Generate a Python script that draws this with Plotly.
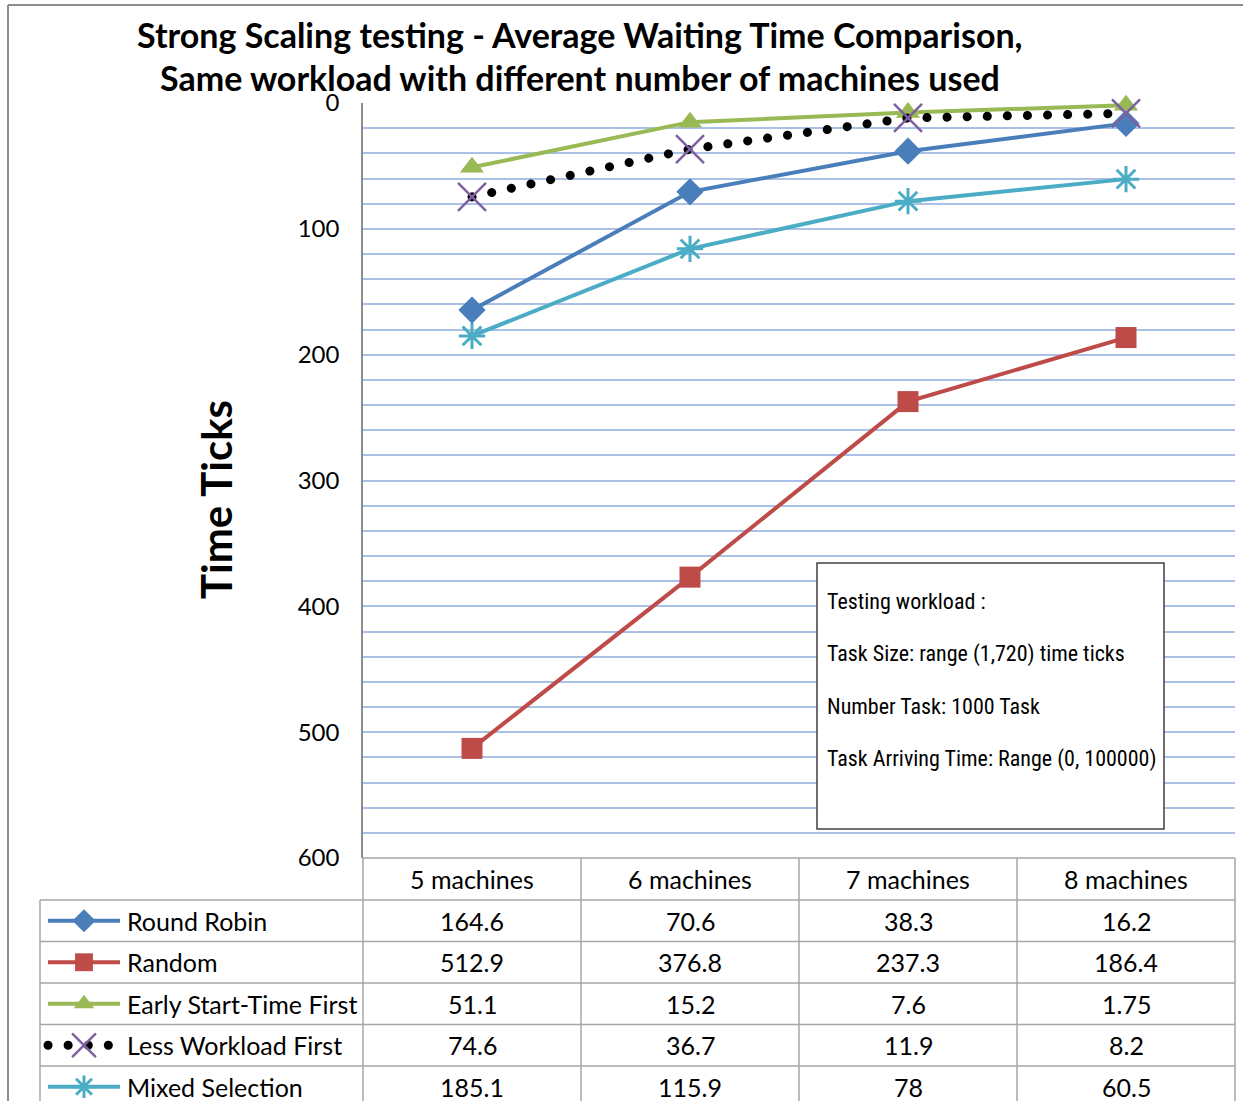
import plotly.graph_objects as go

# ---- data -------------------------------------------------------------
categories = ["5 machines", "6 machines", "7 machines", "8 machines"]
series_names = [
    "Round Robin",
    "Random",
    "Early Start-Time First",
    "Less Workload First",
    "Mixed Selection",
]
round_robin = [164.6, 70.6, 38.3, 16.2]
random_sel = [512.9, 376.8, 237.3, 186.4]
early_start = [51.1, 15.2, 7.6, 1.75]
less_workload = [74.6, 36.7, 11.9, 8.2]
mixed_selection = [185.1, 115.9, 78, 60.5]
y_ticks = [0, 100, 200, 300, 400, 500, 600]
major_grid = [100, 200, 300, 400, 500, 600]

title_lines = [
    "Strong Scaling testing - Average Waiting Time Comparison,",
    "Same workload with different number of machines used",
]
note_lines = [
    "Testing workload :",
    "Task Size: range (1,720) time ticks",
    "Number Task: 1000 Task",
    "Task Arriving Time: Range (0, 100000)",
]

# ---- page geometry (pixels) -------------------------------------------
W, H = 1243, 1101
PLOT_L, PLOT_R, PLOT_T, PLOT_B = 363, 1235, 103, 858
TABLE_L = 40
ROW_H = 41.5
HEADER_B = 900


def px(x):
    return x / W


def py(y):
    return 1 - y / H


FONT = "Lato, Carlito, Calibri, 'Open Sans', sans-serif"
NARROW = "'Liberation Sans Narrow', 'Roboto Condensed', 'DejaVu Sans Condensed', Lato, sans-serif"
GRID_BLUE = "#A9C1E6"
GRID_GRAY = "#8C8C8C"
TABLE_LINE = "#A6A6A6"
TABLE_FONT = dict(family=FONT, size=25, color="black")

styles = [
    dict(line=dict(color="#4A7EBB", width=4),
         marker=dict(symbol="diamond", size=21, color="#4A7EBB")),
    dict(line=dict(color="#BE4B48", width=4),
         marker=dict(symbol="square", size=21, color="#BE4B48")),
    dict(line=dict(color="#98B954", width=4),
         marker=dict(symbol="triangle-up", size=21, color="#98B954")),
    dict(line=dict(color="black", width=9, dash="9px,11px"),
         marker=dict(symbol="x-thin-open", size=28, color="#7D60A0",
                     line=dict(color="#7D60A0", width=2.5))),
    dict(line=dict(color="#4BACC6", width=4),
         marker=dict(symbol="asterisk-open", size=22, color="#4BACC6",
                     line=dict(color="#4BACC6", width=3))),
]
values = [round_robin, random_sel, early_start, less_workload, mixed_selection]

fig = go.Figure()

# ---- main series --------------------------------------------------------
for name, vals, st in zip(series_names, values, styles):
    fig.add_trace(go.Scatter(
        x=categories, y=vals, name=name, mode="lines+markers",
        line=st["line"], marker=st["marker"], showlegend=False,
        xaxis="x", yaxis="y", cliponaxis=False,
    ))

# ---- legend keys inside the data table ----------------------------------
row_centers = [HEADER_B + ROW_H * (i + 0.5) for i in range(len(series_names))]
for name, st, yc in zip(series_names, styles, row_centers):
    key_line = dict(st["line"])
    fig.add_trace(go.Scatter(
        x=[48, 120], y=[yc, yc], mode="lines", line=key_line,
        showlegend=False, xaxis="x2", yaxis="y2", hoverinfo="skip",
    ))
    mk = dict(st["marker"])
    mk["size"] = mk["size"] * 0.85
    fig.add_trace(go.Scatter(
        x=[84], y=[yc], mode="markers", marker=mk,
        showlegend=False, xaxis="x2", yaxis="y2", hoverinfo="skip",
    ))

shapes = []
# outer chart frame
shapes.append(dict(type="line", xref="paper", yref="paper",
                   x0=px(8), x1=px(8), y0=py(5), y1=py(H + 5),
                   line=dict(color="#8C8C8C", width=2)))
shapes.append(dict(type="line", xref="paper", yref="paper",
                   x0=px(8), x1=px(W + 5), y0=py(5), y1=py(5),
                   line=dict(color="#8C8C8C", width=2)))

# data table grid
col_edges = [PLOT_L + (PLOT_R - PLOT_L) * k / len(categories)
             for k in range(len(categories) + 1)]
for xe in col_edges:
    shapes.append(dict(type="line", xref="paper", yref="paper",
                       x0=px(xe), x1=px(xe), y0=py(PLOT_B), y1=py(H + 10),
                       line=dict(color=TABLE_LINE, width=1.5)))
shapes.append(dict(type="line", xref="paper", yref="paper",
                   x0=px(TABLE_L), x1=px(TABLE_L), y0=py(HEADER_B), y1=py(H + 10),
                   line=dict(color=TABLE_LINE, width=1.5)))
shapes.append(dict(type="line", xref="paper", yref="paper",
                   x0=px(PLOT_L), x1=px(PLOT_R), y0=py(PLOT_B), y1=py(PLOT_B),
                   line=dict(color=TABLE_LINE, width=1.5)))
for i in range(len(series_names)):
    yb = HEADER_B + ROW_H * i
    shapes.append(dict(type="line", xref="paper", yref="paper",
                       x0=px(TABLE_L), x1=px(PLOT_R), y0=py(yb), y1=py(yb),
                       line=dict(color=TABLE_LINE, width=1.5)))

# note box
shapes.append(dict(type="rect", xref="paper", yref="paper",
                   x0=px(817), x1=px(1164), y0=py(563), y1=py(829),
                   fillcolor="white", line=dict(color="#404040", width=1.5),
                   layer="above"))

annotations = []
for i, t in enumerate(title_lines):
    annotations.append(dict(text=f"<b>{t}</b>", xref="paper", yref="paper",
                            x=px(580), y=py(34 + 43 * i), showarrow=False,
                            xanchor="center", yanchor="middle",
                            font=dict(family=FONT, size=34, color="black")))
annotations.append(dict(text="<b>Time Ticks</b>", xref="paper", yref="paper",
                        x=px(216), y=py(500), textangle=-90, showarrow=False,
                        xanchor="center", yanchor="middle",
                        font=dict(family=FONT, size=42, color="black")))
for i, t in enumerate(note_lines):
    annotations.append(dict(text=t, xref="paper", yref="paper",
                            x=px(825), y=py(601 + 52.5 * i), showarrow=False,
                            xanchor="left", yanchor="middle",
                            font=dict(family=NARROW, size=22, color="black")))

# table header and values
for c in categories:
    annotations.append(dict(text=c, xref="x", yref="paper", x=c,
                            y=py((PLOT_B + HEADER_B) / 2), showarrow=False,
                            xanchor="center", yanchor="middle", font=TABLE_FONT))
for name, vals, yc in zip(series_names, values, row_centers):
    annotations.append(dict(text=name, xref="paper", yref="paper",
                            x=px(125), y=py(yc), showarrow=False,
                            xanchor="left", yanchor="middle", font=TABLE_FONT))
    for c, v in zip(categories, vals):
        annotations.append(dict(text=f"{v:g}", xref="x", yref="paper", x=c,
                                y=py(yc), showarrow=False,
                                xanchor="center", yanchor="middle",
                                font=TABLE_FONT))

fig.update_layout(
    width=W, height=H,
    margin=dict(l=0, r=0, t=0, b=0, autoexpand=False),
    paper_bgcolor="white", plot_bgcolor="white",
    showlegend=False,
    xaxis=dict(
        domain=[px(PLOT_L), px(PLOT_R)], type="category",
        categoryorder="array", categoryarray=categories,
        range=[-0.5, len(categories) - 0.5],
        showticklabels=False, showgrid=False, zeroline=False, showline=False,
        ticks="", fixedrange=True, automargin=False,
    ),
    yaxis=dict(
        domain=[py(PLOT_B), py(PLOT_T)],
        range=[600, 0], tickvals=y_ticks,
        showgrid=False,
        minor=dict(dtick=20, showgrid=True, gridcolor=GRID_BLUE, gridwidth=1.5),
        showline=True, linecolor="#8C8C8C", linewidth=1.5,
        zeroline=False, ticks="", ticklabelstandoff=17,
        tickfont=dict(family=FONT, size=24, color="black"),
        fixedrange=True, automargin=False,
    ),
    # major gridlines (0 is left open at the top edge)
    yaxis3=dict(
        domain=[py(PLOT_B), py(PLOT_T)], overlaying="y", anchor="x",
        range=[600, 0], tickvals=major_grid, showticklabels=False,
        showgrid=True, gridcolor=GRID_GRAY, gridwidth=1,
        zeroline=False, showline=False, ticks="",
        fixedrange=True, automargin=False,
    ),
    xaxis2=dict(domain=[px(TABLE_L), px(PLOT_L)], range=[TABLE_L, PLOT_L],
                visible=False, fixedrange=True, automargin=False),
    yaxis2=dict(domain=[0, py(PLOT_B)], range=[H, PLOT_B], anchor="x2",
                visible=False, fixedrange=True, automargin=False),
    shapes=shapes,
    annotations=annotations,
)

# dotted series drawn with round dots
round_dots = """
document.querySelectorAll('.scatterlayer .js-line').forEach(function (p) {
    if (p.style.stroke === 'rgb(0, 0, 0)') {
        p.style.strokeLinecap = 'round';
        p.style.strokeDasharray = '0.1px,20px';
    }
});
"""

fig.write_html("out.html", post_script=round_dots)
